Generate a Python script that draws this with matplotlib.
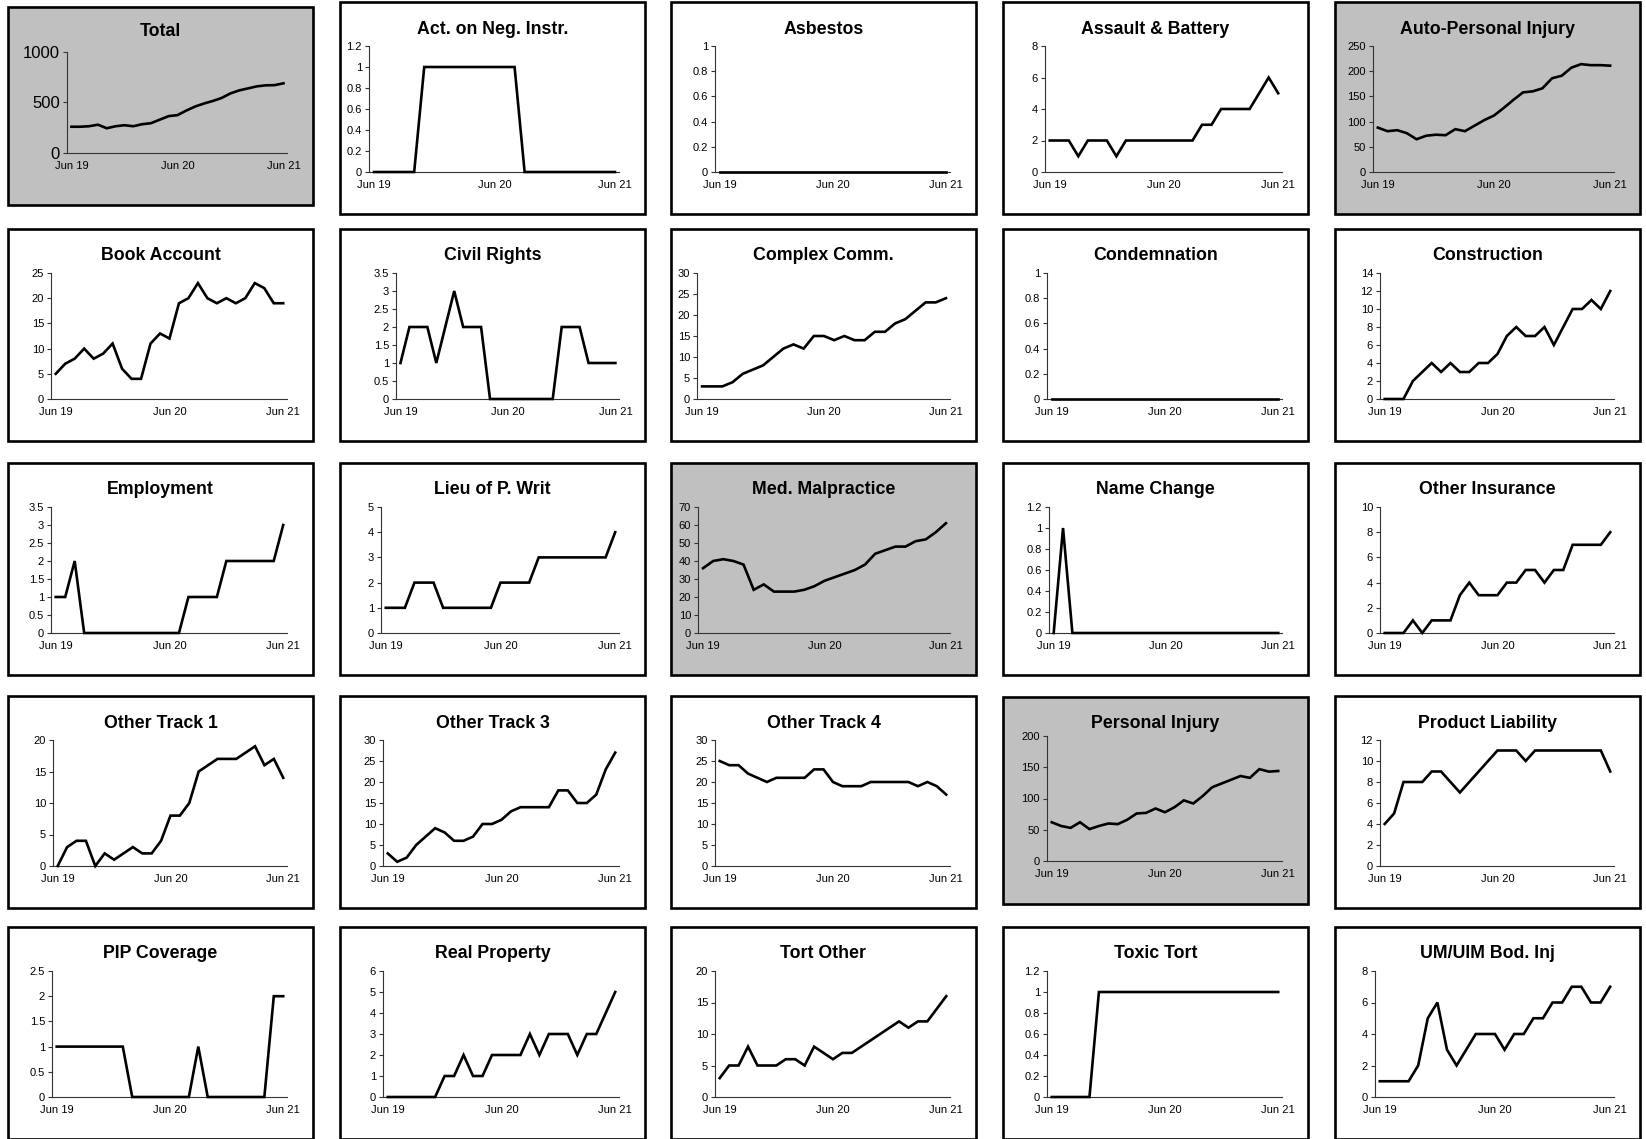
import matplotlib
matplotlib.use("Agg")
import matplotlib.pyplot as plt
from matplotlib.patches import Rectangle
import numpy as np

plt.rcParams['font.family'] = ['Liberation Sans', 'DejaVu Sans']

# ---------------- data ----------------
months = list(range(25))           # Jun 19 .. Jun 21, monthly
xtick_pos = [0, 12, 24]
xtick_labels = ["Jun 19", "Jun 20", "Jun 21"]

titles = ["Total", "Act. on Neg. Instr.", "Asbestos", "Assault & Battery", "Auto-Personal Injury",
          "Book Account", "Civil Rights", "Complex Comm.", "Condemnation", "Construction",
          "Employment", "Lieu of P. Writ", "Med. Malpractice", "Name Change", "Other Insurance",
          "Other Track 1", "Other Track 3", "Other Track 4", "Personal Injury", "Product Liability",
          "PIP Coverage", "Real Property", "Tort Other", "Toxic Tort", "UM/UIM Bod. Inj"]

total = [260, 260, 265, 280, 245, 265, 275, 265, 285, 295, 330, 365, 375, 420, 460, 490, 515, 545,
         590, 620, 640, 660, 670, 672, 690]
act_neg_instr = [0, 0, 0, 0, 0, 1, 1, 1, 1, 1, 1, 1, 1, 1, 1, 0, 0, 0, 0, 0, 0, 0, 0, 0, 0]
asbestos = [0] * 25
assault_battery = [2, 2, 2, 1, 2, 2, 2, 1, 2, 2, 2, 2, 2, 2, 2, 2, 3, 3, 4, 4, 4, 4, 5, 6, 5]
auto_personal_injury = [88, 81, 83, 77, 65, 72, 74, 73, 85, 81, 92, 103, 112, 127, 143, 158, 160,
                        166, 186, 191, 207, 214, 212, 212, 211]
book_account = [5, 7, 8, 10, 8, 9, 11, 6, 4, 4, 11, 13, 12, 19, 20, 23, 20, 19, 20, 19, 20, 23, 22, 19, 19]
civil_rights = [1, 2, 2, 2, 1, 2, 3, 2, 2, 2, 0, 0, 0, 0, 0, 0, 0, 0, 2, 2, 2, 1, 1, 1, 1]
complex_comm = [3, 3, 3, 4, 6, 7, 8, 10, 12, 13, 12, 15, 15, 14, 15, 14, 14, 16, 16, 18, 19, 21, 23, 23, 24]
condemnation = [0] * 25
construction = [0, 0, 0, 2, 3, 4, 3, 4, 3, 3, 4, 4, 5, 7, 8, 7, 7, 8, 6, 8, 10, 10, 11, 10, 12]
employment = [1, 1, 2, 0, 0, 0, 0, 0, 0, 0, 0, 0, 0, 0, 1, 1, 1, 1, 2, 2, 2, 2, 2, 2, 3]
lieu_p_writ = [1, 1, 1, 2, 2, 2, 1, 1, 1, 1, 1, 1, 2, 2, 2, 2, 3, 3, 3, 3, 3, 3, 3, 3, 4]
med_malpractice = [36, 40, 41, 40, 38, 24, 27, 23, 23, 23, 24, 26, 29, 31, 33, 35, 38, 44, 46, 48, 48,
                   51, 52, 56, 61]
name_change = [0, 1] + [0] * 23
other_insurance = [0, 0, 0, 1, 0, 1, 1, 1, 3, 4, 3, 3, 3, 4, 4, 5, 5, 4, 5, 5, 7, 7, 7, 7, 8]
other_track_1 = [0, 3, 4, 4, 0, 2, 1, 2, 3, 2, 2, 4, 8, 8, 10, 15, 16, 17, 17, 17, 18, 19, 16, 17, 14]
other_track_3 = [3, 1, 2, 5, 7, 9, 8, 6, 6, 7, 10, 10, 11, 13, 14, 14, 14, 14, 18, 18, 15, 15, 17, 23, 27]
other_track_4 = [25, 24, 24, 22, 21, 20, 21, 21, 21, 21, 23, 23, 20, 19, 19, 19, 20, 20, 20, 20, 20, 19,
                 20, 19, 17]
personal_injury = [62, 56, 53, 62, 51, 56, 60, 59, 66, 76, 77, 84, 78, 86, 97, 92, 104, 118, 124, 130,
                   136, 133, 147, 143, 144]
product_liability = [4, 5, 8, 8, 8, 9, 9, 8, 7, 8, 9, 10, 11, 11, 11, 10, 11, 11, 11, 11, 11, 11, 11, 11, 9]
pip_coverage = [1, 1, 1, 1, 1, 1, 1, 1, 0, 0, 0, 0, 0, 0, 0, 1, 0, 0, 0, 0, 0, 0, 0, 2, 2]
real_property = [0, 0, 0, 0, 0, 0, 1, 1, 2, 1, 1, 2, 2, 2, 2, 3, 2, 3, 3, 3, 2, 3, 3, 4, 5]
tort_other = [3, 5, 5, 8, 5, 5, 5, 6, 6, 5, 8, 7, 6, 7, 7, 8, 9, 10, 11, 12, 11, 12, 12, 14, 16]
toxic_tort = [0, 0, 0, 0, 0] + [1] * 20
um_uim_bod_inj = [1, 1, 1, 1, 2, 5, 6, 3, 2, 3, 4, 4, 4, 3, 4, 4, 5, 5, 6, 6, 7, 7, 6, 6, 7]

series = [total, act_neg_instr, asbestos, assault_battery, auto_personal_injury,
          book_account, civil_rights, complex_comm, condemnation, construction,
          employment, lieu_p_writ, med_malpractice, name_change, other_insurance,
          other_track_1, other_track_3, other_track_4, personal_injury, product_liability,
          pip_coverage, real_property, tort_other, toxic_tort, um_uim_bod_inj]

y_max = [1000, 1.2, 1, 8, 250,
         25, 3.5, 30, 1, 14,
         3.5, 5, 70, 1.2, 10,
         20, 30, 30, 200, 12,
         2.5, 6, 20, 1.2, 8]
y_step = [500, 0.2, 0.2, 2, 50,
          5, 0.5, 5, 0.2, 2,
          0.5, 1, 10, 0.2, 2,
          5, 5, 5, 50, 2,
          0.5, 1, 5, 0.2, 2]

highlighted = {"Total", "Auto-Personal Injury", "Med. Malpractice", "Personal Injury"}

# ---------------- layout (pixels) ----------------
W, H = 1646, 1139
col_left = [8, 340, 671, 1003, 1335]
row_top = [2, 229, 463, 696, 927]
box_w, box_h = 305, 212
ax_left_off = [59, 29, 44, 42, 38,
               43, 56, 26, 44, 45,
               43, 41, 27, 46, 45,
               45, 43, 44, 44, 45,
               44, 43, 44, 44, 40]
GRAY = '#c0c0c0'

fig = plt.figure(figsize=(W / 100, H / 100), dpi=100)
fig.patch.set_facecolor('white')


def fx(px):
    return px / W


def fy(py):
    return 1 - py / H


for i, (title, vals) in enumerate(zip(titles, series)):
    r, c = divmod(i, 5)
    bl, bt = col_left[c], row_top[r]
    bw, bh = box_w, box_h
    top_off, bot_off = 44, 170
    if title == "Total":
        bt, bh = 7, 198
        top_off, bot_off = 45, 146
    if title == "Personal Injury":
        bt, bh = 697, 207
        top_off, bot_off = 39, 164
    face = GRAY if title in highlighted else 'white'
    fig.add_artist(Rectangle((fx(bl), fy(bt + bh)), bw / W, bh / H, transform=fig.transFigure,
                             facecolor=face, edgecolor='black', lw=1.9, zorder=0))

    a_left = bl + ax_left_off[i]
    a_right = bl + bw - 26
    a_top = bt + top_off
    a_bot = bt + bot_off
    ax = fig.add_axes([fx(a_left), fy(a_bot), (a_right - a_left) / W, (a_bot - a_top) / H])
    ax.set_facecolor('none')
    ax.plot(months, vals, color='black', lw=1.9, clip_on=False, solid_joinstyle='miter', zorder=3)
    ax.set_xlim(-0.5, 24.4)
    ax.set_ylim(0, y_max[i])
    yt = np.arange(0, y_max[i] + y_step[i] / 2, y_step[i])
    ax.set_yticks(yt)
    ax.set_yticklabels([f"{round(v, 2):g}" for v in yt])
    ax.set_xticks(xtick_pos)
    ax.set_xticklabels(xtick_labels)
    for s in ['top', 'right']:
        ax.spines[s].set_visible(False)
    for s in ['left', 'bottom']:
        ax.spines[s].set_color('#333333')
        ax.spines[s].set_linewidth(0.8)
    ysize = 12 if title == "Total" else 8
    ax.tick_params(axis='y', direction='out', length=3, width=0.8, color='#333333',
                   labelsize=ysize, pad=2)
    ax.tick_params(axis='x', length=0, labelsize=8, pad=6)
    # title centred over the box
    fig.text(fx(bl + bw / 2), fy(bt + (27 if title != "Total" else 25)), title,
             ha='center', va='center', fontsize=12.8, fontweight='bold')

fig.savefig("out.png", dpi=100)
